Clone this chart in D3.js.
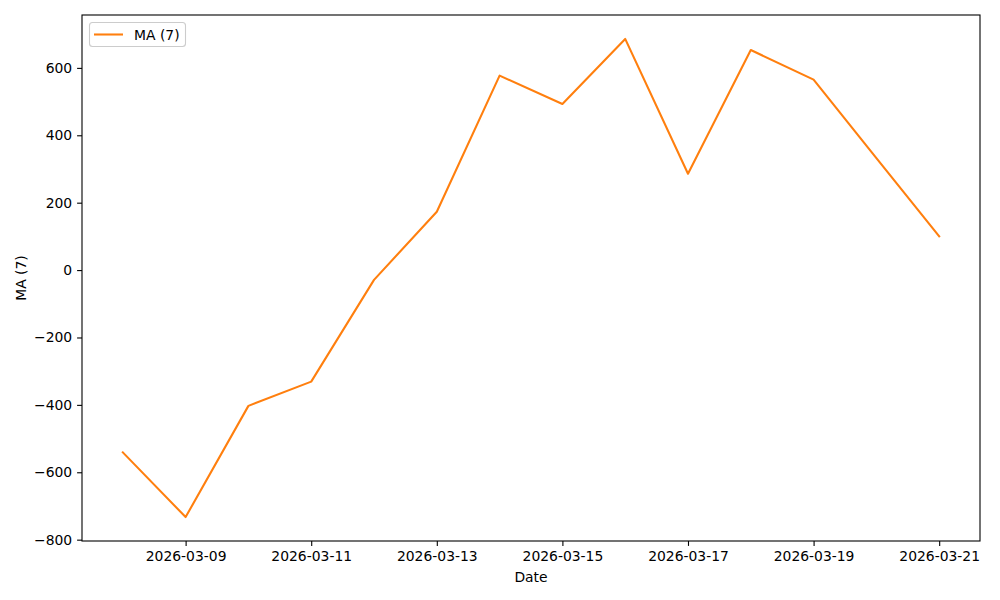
<!DOCTYPE html>
<html><head><meta charset="utf-8">
<script src="https://cdn.jsdelivr.net/npm/d3@7"></script>
<style>body{margin:0;background:#fff}svg{display:block}text{font-family:"DejaVu Sans",sans-serif;fill:#000}</style>
</head><body><svg id="c" width="1000" height="600"></svg>
<script>
const dates = ["2026-03-08","2026-03-09","2026-03-10","2026-03-11","2026-03-12","2026-03-13","2026-03-14","2026-03-15","2026-03-16","2026-03-17","2026-03-18","2026-03-19","2026-03-20","2026-03-21"];
const maValues = [-541,-733,-403,-331,-29,173,577,493,686,286,653,565,332,100];
const xTickLabels = ["2026-03-09","2026-03-11","2026-03-13","2026-03-15","2026-03-17","2026-03-19","2026-03-21"];
const yTicks = [-800,-600,-400,-200,0,200,400,600];
const seriesName = "MA (7)";

const parse = d3.utcParse("%Y-%m-%d");
const data = dates.map((d,i)=>({date:parse(d), v:maValues[i]}));
const m = {l:82, t:15, r:980, b:541};
const svg = d3.select("#c");
const x0 = data[0].date.getTime(), x1 = data[data.length-1].date.getTime();
const xpad = (x1-x0)*0.05;
const x = d3.scaleUtc().domain([new Date(x0-xpad), new Date(x1+xpad)]).range([m.l, m.r]);
const ymin = d3.min(maValues), ymax = d3.max(maValues), ypad=(ymax-ymin)*0.05;
const y = d3.scaleLinear().domain([ymin-ypad, ymax+ypad]).range([m.b, m.t]);

const xa = svg.append("g").attr("transform",`translate(0,${m.b})`)
  .call(d3.axisBottom(x).tickValues(xTickLabels.map(parse)).tickFormat(d3.utcFormat("%Y-%m-%d")).tickSize(4.9).tickPadding(4.9));
const ya = svg.append("g").attr("transform",`translate(${m.l},0)`)
  .call(d3.axisLeft(y).tickValues(yTicks).tickFormat(d=>d<0?"\u2212"+Math.abs(d):d).tickSize(4.9).tickPadding(4.9));
[xa,ya].forEach(a=>{a.select(".domain").remove();a.selectAll("text").attr("font-size","13.9px").attr("font-family","DejaVu Sans").attr("fill","#000");a.selectAll("line").attr("stroke","#000").attr("stroke-width",1.1);});

svg.append("rect").attr("x",m.l).attr("y",m.t).attr("width",m.r-m.l).attr("height",m.b-m.t).attr("fill","none").attr("stroke","#000").attr("stroke-width",1.1);

svg.append("path").datum(data).attr("fill","none").attr("stroke","#ff7f0e").attr("stroke-width",2.08)
  .attr("stroke-linejoin","round").attr("stroke-linecap","square")
  .attr("d", d3.line().x(d=>x(d.date)).y(d=>y(d.v)));

svg.append("text").attr("x",(m.l+m.r)/2).attr("y",582).attr("text-anchor","middle").attr("font-size","13.9px").text("Date");
svg.append("text").attr("transform",`translate(26,${(m.t+m.b)/2}) rotate(-90)`).attr("text-anchor","middle").attr("font-size","13.9px").text(seriesName);

const lg = svg.append("g");
lg.append("rect").attr("x",89.5).attr("y",22.5).attr("width",96).attr("height",24).attr("rx",3).attr("fill","#fff").attr("fill-opacity",0.8).attr("stroke","#ccc").attr("stroke-width",1.1);
lg.append("line").attr("x1",94).attr("x2",123).attr("y1",34.5).attr("y2",34.5).attr("stroke","#ff7f0e").attr("stroke-width",2.08);
lg.append("text").attr("x",134).attr("y",39.5).attr("font-size","13.9px").text(seriesName);
</script></body></html>
